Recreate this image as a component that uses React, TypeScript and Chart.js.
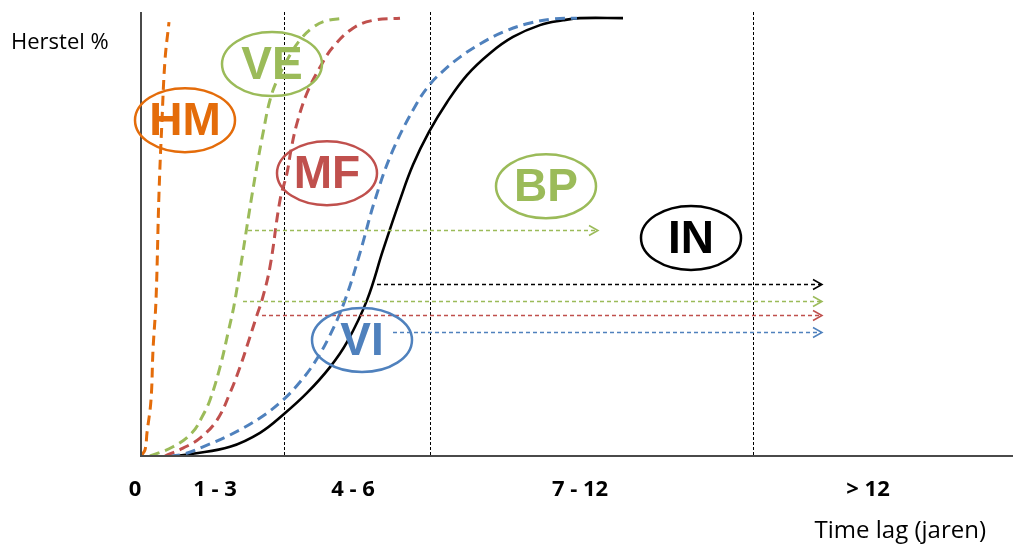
import React, { useEffect, useRef } from "react";
import { Chart, registerables } from "chart.js";

Chart.register(...registerables);

// ---- Data (x: time-lag units, y: herstel %) ----
const hmX = [0, 0.4, 0.6, 1.0, 1.2, 1.5, 1.8, 2.1, 2.4, 2.8];
const hmY = [0, 1.4, 5.3, 12.8, 24.2, 35.6, 60.0, 76.7, 90.4, 99.1];

const veX = [0.9, 3.2, 5.1, 6.1, 6.9, 7.9, 8.7, 9.4, 11.1, 11.7, 12.2, 12.9, 13.7, 14.9, 15.9, 17.1, 18.4, 20.4];
const veY = [0, 2.1, 5.3, 8.9, 12.8, 20.3, 28.1, 35.6, 59.6, 67.6, 73.7, 81.3, 86.3, 91.6, 95.0, 97.7, 99.3, 100];

const mfX = [2.4, 4.2, 5.9, 7.6, 8.9, 9.9, 10.7, 11.6, 12.1, 12.9, 13.9, 14.6, 15.0, 15.6, 16.6, 17.9, 19.2, 21.2, 23.2, 25.9];
const mfY = [0, 1.8, 4.1, 8.2, 14.4, 20.3, 25.8, 32.2, 35.6, 43.2, 58.4, 64.6, 69.9, 76.0, 82.9, 88.8, 93.4, 97.7, 99.5, 100];

const viX = [2.9, 4.4, 6.2, 8.9, 11.9, 14.2, 15.9, 17.4, 18.9, 20.4, 21.9, 23.4, 25.2, 27.6, 28.9, 30.2, 31.9, 33.9, 36.2, 38.6, 41.2, 43.6];
const viY = [0, 0.5, 2.1, 4.8, 8.7, 12.8, 16.9, 21.5, 27.6, 35.6, 46.4, 58.5, 69.9, 80.6, 84.9, 87.9, 91.1, 94.1, 96.8, 98.7, 99.8, 100];

const inX = [3.4, 5.2, 8.9, 11.9, 14.3, 16.6, 18.9, 20.6, 22.6, 24.2, 25.9, 27.2, 28.8, 30.6, 32.6, 34.9, 37.2, 39.9, 42.2, 43.9, 48.2];
const inY = [0, 0.5, 2.1, 5.3, 9.6, 14.4, 20.3, 26.0, 35.6, 47.0, 58.5, 66.5, 74.0, 80.8, 87.0, 92.0, 95.7, 98.4, 99.5, 100, 100];

// category boundaries (vertical dashed lines)
const dividerX = [14.3, 28.9, 61.2];

// category tick labels
const tickLabels = ["0", "1 - 3", "4 - 6", "7 - 12", "> 12"];
const tickPos = [-0.6, 7.4, 21.2, 43.9, 72.7];

// ellipse labels
const bubbleLabels = ["HM", "VE", "MF", "BP", "IN", "VI"];
const bubbleX = [4.4, 13.1, 18.6, 40.5, 55.0, 22.1];
const bubbleY = [76.7, 89.5, 64.6, 61.6, 49.8, 26.5];

// horizontal arrows: start x, end x, level y
const arrowNames = ["BP", "IN", "VE", "MF", "VI"];
const arrowStart = [10.7, 23.6, 10.2, 12.1, 25.2];
const arrowEnd = [45.7, 68.1, 68.1, 68.1, 68.1];
const arrowLevel = [51.6, 39.3, 35.4, 32.2, 28.3];

const COLORS: Record<string, string> = {
  HM: "#E46C0A",
  VE: "#9BBB59",
  BP: "#9BBB59",
  MF: "#C0504D",
  VI: "#4F81BD",
  IN: "#000000",
};

const zip = (xs: number[], ys: number[]) => xs.map((x, i) => ({ x, y: ys[i] }));

const overlay = {
  id: "overlay",
  beforeDatasetsDraw(chart: any) {
    const { ctx, chartArea: a, scales } = chart;
    const x = scales.x;
    ctx.save();
    ctx.strokeStyle = "#000";
    ctx.lineWidth = 1;
    ctx.setLineDash([3, 2]);
    for (const v of dividerX) {
      const px = Math.round(x.getPixelForValue(v)) + 0.5;
      ctx.beginPath();
      ctx.moveTo(px, a.top);
      ctx.lineTo(px, a.bottom);
      ctx.stroke();
    }
    ctx.restore();
  },
  afterDatasetsDraw(chart: any) {
    const { ctx, chartArea: a, scales } = chart;
    const x = scales.x;
    const y = scales.y;
    ctx.save();

    // axes
    ctx.setLineDash([]);
    ctx.strokeStyle = "#4a4a4a";
    ctx.lineWidth = 2;
    ctx.beginPath();
    ctx.moveTo(a.left, a.top);
    ctx.lineTo(a.left, a.bottom);
    ctx.lineTo(a.right, a.bottom);
    ctx.stroke();

    // arrows
    arrowNames.forEach((n, i) => {
      const c = COLORS[n];
      const x0 = x.getPixelForValue(arrowStart[i]);
      const x1 = x.getPixelForValue(arrowEnd[i]);
      const py = Math.round(y.getPixelForValue(arrowLevel[i])) + 0.5;
      ctx.strokeStyle = c;
      ctx.lineWidth = 1.3;
      ctx.setLineDash([4, 3]);
      ctx.beginPath();
      ctx.moveTo(x0, py);
      ctx.lineTo(x1 - 1, py);
      ctx.stroke();
      ctx.setLineDash([]);
      ctx.lineWidth = 1.5;
      ctx.beginPath();
      ctx.moveTo(x1 - 9, py - 5);
      ctx.lineTo(x1, py);
      ctx.lineTo(x1 - 9, py + 5);
      ctx.stroke();
    });

    // bubbles
    bubbleLabels.forEach((n, i) => {
      const c = COLORS[n];
      const cx = x.getPixelForValue(bubbleX[i]);
      const cy = y.getPixelForValue(bubbleY[i]);
      ctx.setLineDash([]);
      ctx.strokeStyle = c;
      ctx.lineWidth = 2.5;
      ctx.beginPath();
      ctx.ellipse(cx, cy, 50, 32, 0, 0, Math.PI * 2);
      ctx.stroke();
      ctx.fillStyle = c;
      ctx.font = "bold 46px 'Liberation Sans', Arial, sans-serif";
      ctx.textAlign = "center";
      ctx.textBaseline = "middle";
      ctx.fillText(n, cx, cy + 2);
    });

    // category ticks
    ctx.fillStyle = "#000";
    ctx.font = "bold 22px 'Open Sans', sans-serif";
    ctx.textAlign = "center";
    ctx.textBaseline = "middle";
    tickLabels.forEach((t, i) => {
      ctx.fillText(t, x.getPixelForValue(tickPos[i]), a.bottom + 34);
    });

    // axis titles
    ctx.font = "22px 'Open Sans', sans-serif";
    ctx.textAlign = "left";
    ctx.fillText("Herstel %", 11, 43);
    ctx.font = "24px 'Open Sans', sans-serif";
    ctx.textAlign = "right";
    ctx.fillText("Time lag (jaren)", 986, 531);

    ctx.restore();
  },
};

export default function App() {
  const ref = useRef<HTMLCanvasElement>(null);
  useEffect(() => {
    if (!ref.current) return;
    const mk = (label: string, xs: number[], ys: number[], dashed: boolean) => ({
      label,
      data: zip(xs, ys),
      borderColor: COLORS[label],
      borderWidth: dashed ? 3 : 2.6,
      borderDash: dashed ? [10, 6] : [],
      pointRadius: 0,
      fill: false,
      tension: 0.4,
    });
    const chart = new Chart(ref.current, {
      type: "line",
      data: {
        datasets: [
          mk("HM", hmX, hmY, true),
          mk("VE", veX, veY, true),
          mk("MF", mfX, mfY, true),
          mk("VI", viX, viY, true),
          mk("IN", inX, inY, false),
        ],
      },
      options: {
        animation: false,
        responsive: true,
        maintainAspectRatio: false,
        layout: { padding: { left: 141, right: 0, top: 12, bottom: 92 } },
        plugins: { legend: { display: false }, tooltip: { enabled: false } },
        scales: {
          x: { type: "linear", min: 0, max: 87.2, display: false },
          y: { type: "linear", min: 0, max: 101.4, display: false },
        },
      },
      plugins: [overlay],
    });
    return () => chart.destroy();
  }, []);
  return (
    <div style={{ position: "absolute", left: 0, top: 0, width: 1013, height: 548, background: "#fff" }}>
      <canvas ref={ref} />
    </div>
  );
}
